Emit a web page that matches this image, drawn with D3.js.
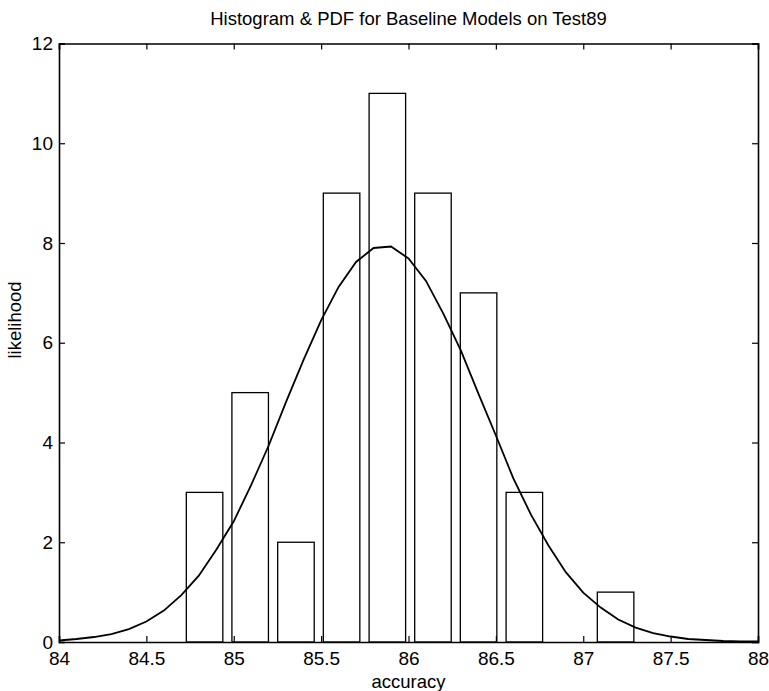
<!DOCTYPE html>
<html>
<head>
<meta charset="utf-8">
<script src="https://cdn.jsdelivr.net/npm/d3@7"></script>
<style>
  body { margin: 0; background: #fff; }
  text { font-family: "Liberation Sans", Arial, sans-serif; fill: #000; }
  .tick text { font-size: 19px; }
</style>
</head>
<body>
<div id="container"></div>
<script>
// histogram bins (centres) and counts
const binCenters = [84.833, 85.094, 85.356, 85.617, 85.879, 86.140, 86.401, 86.663, 86.924, 87.185];
const binCounts  = [3, 5, 2, 9, 11, 9, 7, 3, 0, 1];
const barWidth = 0.209; // in accuracy units

// fitted pdf curve
const pdfX = [84.0, 84.1, 84.2, 84.3, 84.4, 84.5, 84.6, 84.7, 84.8, 84.9,
              85.0, 85.1, 85.2, 85.3, 85.4, 85.5, 85.6, 85.7, 85.8, 85.9,
              86.0, 86.1, 86.2, 86.3, 86.4, 86.5, 86.6, 86.7, 86.8, 86.9,
              87.0, 87.1, 87.2, 87.3, 87.4, 87.5, 87.6, 87.7, 87.8, 87.9, 88.0];
const pdfY = [0.03, 0.06, 0.10, 0.16, 0.26, 0.41, 0.63, 0.94, 1.33, 1.85,
              2.42, 3.15, 3.94, 4.82, 5.66, 6.45, 7.12, 7.62, 7.90, 7.93,
              7.69, 7.24, 6.58, 5.84, 4.98, 4.14, 3.28, 2.56, 1.94, 1.40,
              0.99, 0.69, 0.45, 0.29, 0.18, 0.11, 0.06, 0.04, 0.02, 0.01, 0.01];

const xTicks = [84, 84.5, 85, 85.5, 86, 86.5, 87, 87.5, 88];
const yTicks = [0, 2, 4, 6, 8, 10, 12];

var margin = {top: 43.5, right: 11, bottom: 49, left: 59},
    width = 769 - margin.left - margin.right,
    height = 691 - margin.top - margin.bottom;

const svg = d3.select("#container")
    .append("svg")
      .attr("width", 769)
      .attr("height", 691)
    .append("g")
      .attr("transform", "translate(" + margin.left + "," + margin.top + ")");

const x = d3.scaleLinear().domain([84, 88]).range([0, width]);
const y = d3.scaleLinear().domain([0, 12]).range([height, 0]);

// bars
svg.selectAll(".bar")
    .data(binCenters)
    .enter()
    .append("rect")
      .attr("class", "bar")
      .attr("x", d => x(d - barWidth / 2))
      .attr("width", d => x(d + barWidth / 2) - x(d - barWidth / 2))
      .attr("y", (d, i) => y(binCounts[i]))
      .attr("height", (d, i) => y(0) - y(binCounts[i]))
      .attr("fill", "none")
      .attr("stroke", "#000")
      .attr("stroke-width", 1.3);

// pdf line
const line = d3.line()
    .x((d, i) => x(pdfX[i]))
    .y(d => y(d));

svg.append("path")
    .datum(pdfY)
    .attr("d", line)
    .attr("fill", "none")
    .attr("stroke", "#000")
    .attr("stroke-width", 1.8);

// axes, ticks pointing inward on all four sides
svg.append("g")
    .attr("transform", `translate(0,${height})`)
    .call(d3.axisBottom(x).tickValues(xTicks).tickSize(-6).tickPadding(10).tickFormat(d3.format("")));
svg.append("g")
    .call(d3.axisTop(x).tickValues(xTicks).tickSize(-6).tickFormat(""));
svg.append("g")
    .call(d3.axisLeft(y).tickValues(yTicks).tickSize(-6).tickPadding(6).tickFormat(d3.format("")));
svg.append("g")
    .attr("transform", `translate(${width},0)`)
    .call(d3.axisRight(y).tickValues(yTicks).tickSize(-6).tickFormat(""));

svg.selectAll(".domain").attr("stroke", "#000").attr("stroke-width", 1.6);
svg.selectAll(".tick line").attr("stroke", "#000").attr("stroke-width", 1.2);

svg.append("text")
    .attr("x", width / 2)
    .attr("y", -19)
    .attr("text-anchor", "middle")
    .style("font-size", "18.5px")
    .text("Histogram & PDF for Baseline Models on Test89");

svg.append("text")
    .attr("x", width / 2)
    .attr("y", height + 46)
    .attr("text-anchor", "middle")
    .style("font-size", "18.5px")
    .text("accuracy");

svg.append("text")
    .attr("transform", "translate(-38," + (320 - margin.top) + ")rotate(-90)")
    .attr("text-anchor", "middle")
    .style("font-size", "18.5px")
    .text("likelihood");
</script>
</body>
</html>
